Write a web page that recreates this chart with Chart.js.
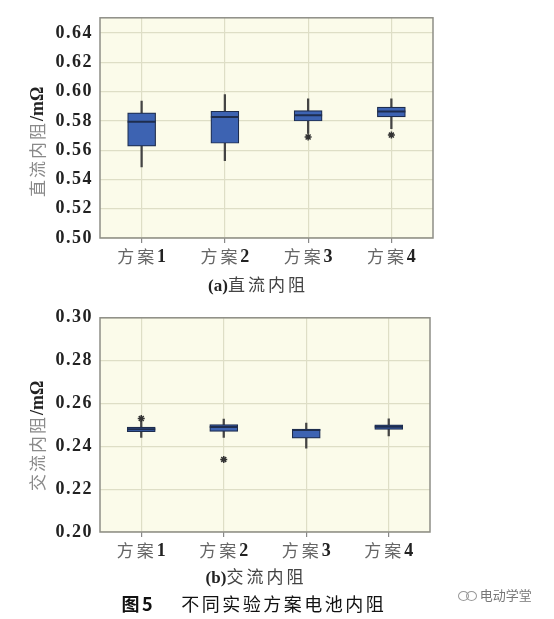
<!DOCTYPE html>
<html lang="zh">

<head>
  <meta charset="UTF-8">
  <title>不同实验方案电池内阻</title>
  <script src="https://cdn.jsdelivr.net/npm/chart.js"></script>
  <style>
    body { margin: 0; background: #fff; width: 554px; height: 619px; position: relative; overflow: hidden; }
    canvas { position: absolute; left: 0; }
    .cap { position: absolute; left: 0; width: 554px; text-align: center; white-space: nowrap; }
    .sub { font: 17px "Noto Sans CJK SC", sans-serif; color: #444; letter-spacing: 3px; }
    .sub b { font-family: "Liberation Serif", serif; color: #222; letter-spacing: 0; }
    .fig { font: 18px "Noto Sans CJK SC", sans-serif; color: #111; letter-spacing: 2.5px; }
    .mark { position: absolute; left: 458px; top: 585px; font: 13px "Noto Sans CJK SC", sans-serif; color: #777; }
    .mark i { display: inline-block; width: 9px; height: 8px; border: 1px solid #999; border-radius: 50%; margin-right: -3px; vertical-align: -1px; }
  </style>
</head>

<body>
  <canvas id="dcChart" width="554" height="272" style="top:0"></canvas>
  <div class="cap sub" style="top:271px;left:-19px"><b>(a)</b>直流内阻</div>
  <canvas id="acChart" width="554" height="266" style="top:300px"></canvas>
  <div class="cap sub" style="top:563px;left:-21px"><b>(b)</b>交流内阻</div>
  <div class="cap fig" style="top:590px;left:-23px"><b>图5</b>&nbsp;&nbsp;&nbsp;&nbsp;不同实验方案电池内阻</div>
  <div class="mark"><i></i><i></i>&nbsp; 电动学堂</div>

<script>
  const categories = ['方案1', '方案2', '方案3', '方案4']

  // 直流内阻 (mΩ)
  const dcMin = [0.5486, 0.5529, 0.5714, 0.5747]
  const dcQ1 = [0.5627, 0.5647, 0.5799, 0.5827]
  const dcMedian = [0.5794, 0.5827, 0.5838, 0.5864]
  const dcQ3 = [0.5855, 0.5866, 0.5870, 0.5894]
  const dcMax = [0.5935, 0.5979, 0.5951, 0.5951]
  const dcOutlier = [null, null, 0.5690, 0.5703]
  const dcTicks = [0.50, 0.52, 0.54, 0.56, 0.58, 0.60, 0.62, 0.64]

  // 交流内阻 (mΩ)
  const acMin = [0.2441, 0.2441, 0.2391, 0.2449]
  const acQ1 = [0.2468, 0.2470, 0.2438, 0.2479]
  const acMedian = [0.2480, 0.2490, 0.2476, 0.2491]
  const acQ3 = [0.2490, 0.2501, 0.2481, 0.2500]
  const acMax = [0.2519, 0.2527, 0.2509, 0.2528]
  const acOutlier = [0.2530, 0.2339, null, null]
  const acTicks = [0.20, 0.22, 0.24, 0.26, 0.28, 0.30]

  const SERIF = '"Liberation Serif", "Times New Roman", serif'
  const CJK = '"Noto Sans CJK SC", sans-serif'

  // draw a run of differently styled text pieces centred on (x, y)
  function drawParts(ctx, parts, x, y) {
    ctx.save()
    ctx.textBaseline = 'middle'
    ctx.textAlign = 'left'
    let total = 0
    parts.forEach(p => { ctx.font = p.font; ctx.letterSpacing = p.spacing || '0px'; p.w = ctx.measureText(p.text).width; total += p.w })
    let cx = x - total / 2
    parts.forEach(p => {
      ctx.font = p.font
      ctx.letterSpacing = p.spacing || '0px'
      ctx.fillStyle = p.color
      ctx.fillText(p.text, cx, y)
      cx += p.w
    })
    ctx.restore()
  }

  function makeChart(id, min, q1, med, q3, max, outl, yMin, yMax, ticks, pad, title, titleShift) {
    const frame = {
      id: 'frame',
      beforeDraw(chart) {
        const { ctx, chartArea: a } = chart
        ctx.save()
        ctx.fillStyle = '#fbfbea'
        ctx.fillRect(a.left, a.top, a.right - a.left, a.bottom - a.top)
        ctx.restore()
        ctx.letterSpacing = '1.5px'
      },
      afterDraw(chart) {
        const { ctx, chartArea: a, scales } = chart
        ctx.letterSpacing = '0px'
        ctx.save()
        ctx.strokeStyle = '#8e8e86'
        ctx.lineWidth = 1.5
        ctx.strokeRect(a.left, a.top, a.right - a.left, a.bottom - a.top)
        ctx.restore()
        // category labels: Chinese part light, number bold
        categories.forEach((c, i) => {
          const x = scales.x.getPixelForValue(i)
          const num = c.match(/\d+$/)[0]
          drawParts(ctx, [
            { text: c.slice(0, c.length - num.length), font: '17px ' + CJK, color: '#666', spacing: '3px' },
            { text: num, font: 'bold 18px ' + SERIF, color: '#222' }
          ], x, a.bottom + 19)
        })
        // rotated axis title
        ctx.save()
        ctx.translate(38, (a.top + a.bottom) / 2 + titleShift)
        ctx.rotate(-Math.PI / 2)
        drawParts(ctx, [
          { text: title, font: '17px ' + CJK, color: '#8a8a8a', spacing: '2px' },
          { text: '/mΩ', font: 'bold 18px ' + SERIF, color: '#222' }
        ], 0, 0)
        ctx.restore()
      }
    }

    return new Chart(document.getElementById(id), {
      type: 'bar',
      data: {
        labels: categories,
        datasets: [
          {
            type: 'line', data: outl, showLine: false, order: 0,
            pointStyle: 'star', pointRadius: 3.5, pointBorderColor: '#333', pointBorderWidth: 1.5
          },
          {
            type: 'line', data: med, showLine: false, order: 1,
            pointStyle: 'line', pointRadius: 14, pointBorderColor: '#1e2d4e', pointBorderWidth: 2
          },
          {
            data: categories.map((c, i) => [q1[i], q3[i]]), order: 2, grouped: false,
            barThickness: 28, backgroundColor: '#3d63b2', borderColor: '#1e2d4e', borderWidth: 1.2, borderSkipped: false
          },
          {
            data: categories.map((c, i) => [min[i], max[i]]), order: 3, grouped: false,
            barThickness: 1.6, backgroundColor: '#444', borderWidth: 0
          }
        ]
      },
      options: {
        responsive: false,
        animation: false,
        layout: { padding: pad },
        plugins: { legend: { display: false }, tooltip: { enabled: false } },
        scales: {
          x: {
            offset: true,
            grid: { offset: false, color: '#dedec6', tickColor: '#888', tickLength: 5, lineWidth: 1.2 },
            border: { display: false },
            ticks: { display: false },
            afterFit(s) { s.height = 34 }
          },
          y: {
            min: yMin, max: yMax,
            afterBuildTicks(s) { s.ticks = ticks.map(v => ({ value: v })) },
            grid: { color: '#dedec6', drawTicks: false, lineWidth: 1.2 },
            border: { display: false },
            ticks: {
              padding: 7, color: '#222',
              font: { family: SERIF, size: 18, weight: 'bold' },
              callback: v => v.toFixed(2)
            },
            afterFit(s) { s.width = 100 }
          }
        }
      },
      plugins: [frame]
    })
  }

  makeChart('dcChart', dcMin, dcQ1, dcMedian, dcQ3, dcMax, dcOutlier, 0.50, 0.6504, dcTicks,
    { top: 7, right: 121, left: 0, bottom: 0 }, '直流内阻', 14)
  makeChart('acChart', acMin, acQ1, acMedian, acQ3, acMax, acOutlier, 0.20, 0.30, acTicks,
    { top: 10, right: 124, left: 0, bottom: 0 }, '交流内阻', 11)
</script>
</body>

</html>
